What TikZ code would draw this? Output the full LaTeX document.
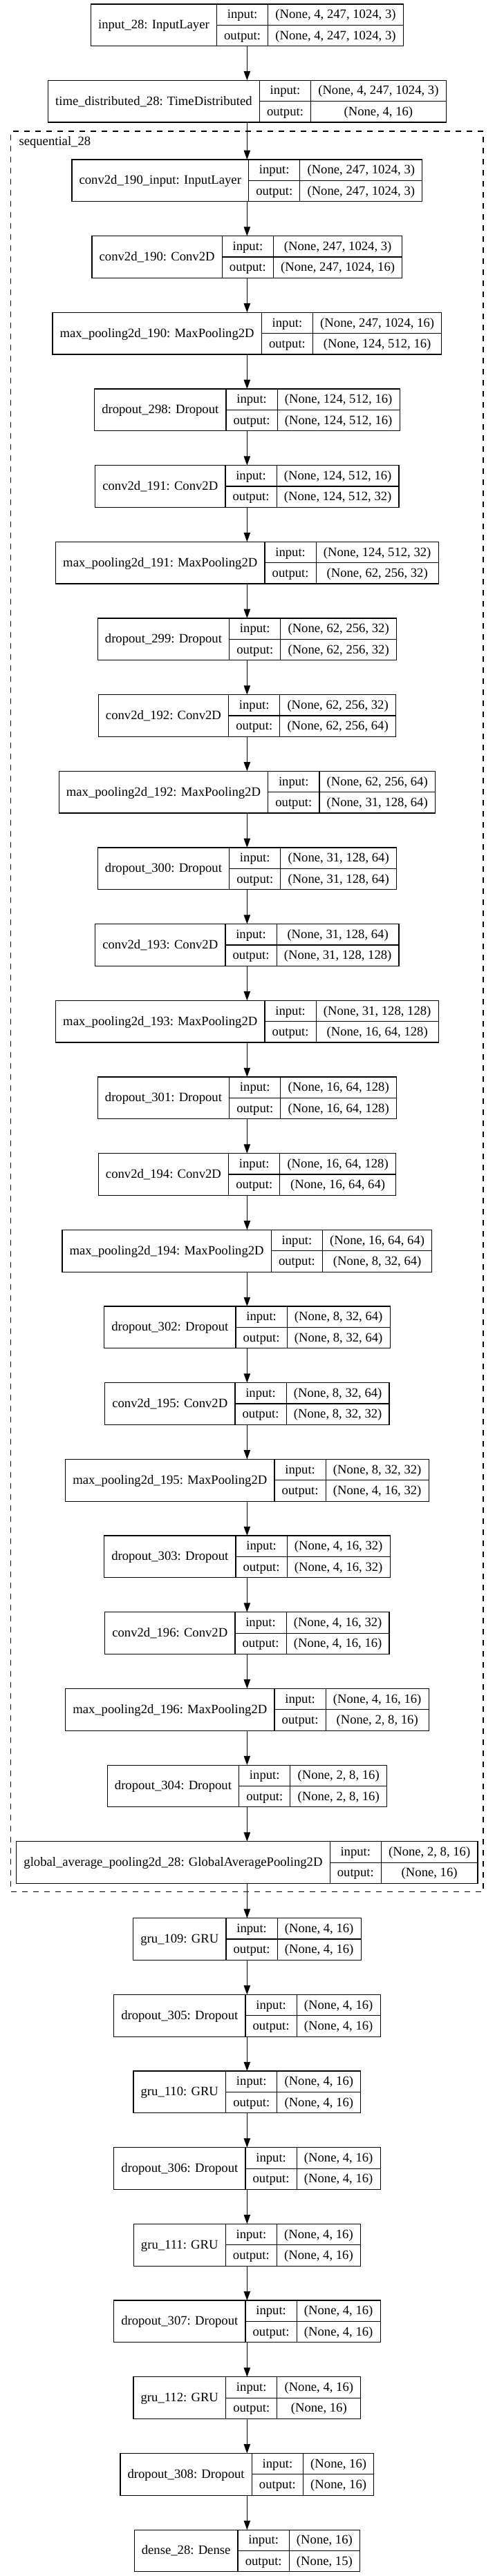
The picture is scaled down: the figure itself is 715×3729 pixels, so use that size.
\documentclass[tikz,border=0pt]{standalone}
\usepackage{fontspec}
\setmainfont{Liberation Serif}
\usetikzlibrary{arrows.meta}
\newlength\lwA \newlength\lwB \newlength\lwC \newlength\lwD
\newcommand\gvfont{\fontsize{18.67pt}{22.4pt}\selectfont}
\def\cx{357.35}
\def\bh{60.7}
\def\fpad{21.33}
\def\boff{5.5}
\tikzset{
  box/.style={draw, rectangle, line width=1.2pt, inner sep=0pt, outer sep=0pt},
  gvline/.style={line width=1.2pt},
  txt/.style={anchor=base, inner sep=0pt, font=\gvfont},
  arr/.style={line width=1.2pt, -{Triangle[length=13.3pt,width=9.3pt]}},
  cluster/.style={draw, rectangle, dash pattern=on 8pt off 8pt, line width=1.2pt, inner sep=0pt, outer sep=0pt}
}
% pass 1: measure (outside the picture)
\newcommand\measurelayer[5]{%
  \settowidth\lwA{\gvfont #3}%
  \settowidth\lwB{\gvfont output:}%
  \settowidth\lwC{\gvfont #4}%
  \settowidth\lwD{\gvfont #5}%
  \ifdim\lwD>\lwC \lwC=\lwD\fi
  \expandafter\xdef\csname wa#1\endcsname{\the\lwA}%
  \expandafter\xdef\csname wb#1\endcsname{\the\lwB}%
  \expandafter\xdef\csname wc#1\endcsname{\the\lwC}%
}
% pass 2: draw (inside the picture)
\newcommand\drawlayer[5]{%
  \pgfmathsetmacro\fa{\csname wa#1\endcsname+\fpad}%
  \pgfmathsetmacro\fb{\csname wb#1\endcsname+\fpad}%
  \pgfmathsetmacro\fc{\csname wc#1\endcsname+\fpad}%
  \pgfmathsetmacro\wt{\fa+\fb+\fc}%
  \pgfmathsetmacro\xl{\cx-\wt/2}%
  \pgfmathsetmacro\xa{\xl+\fa}%
  \pgfmathsetmacro\xb{\xa+\fb}%
  \pgfmathsetmacro\xr{\xl+\wt}%
  \pgfmathsetmacro\yt{#2}%
  \pgfmathsetmacro\ym{\yt+\bh/2}%
  \pgfmathsetmacro\yb{\yt+\bh}%
  \node[box, minimum width=\wt pt, minimum height=\bh pt] (#1) at (\cx,\ym) {};
  \draw[gvline] (\xa,\yt) -- (\xa,\yb) (\xb,\yt) -- (\xb,\yb) (\xa,\ym) -- (\xr,\ym);
  \node[txt] (#1-n) at ({(\xl+\xa)/2},{\ym+\boff}) {#3};
  \node[txt] (#1-il) at ({(\xa+\xb)/2},{\yt+\bh/4+\boff}) {input:};
  \node[txt] (#1-ol) at ({(\xa+\xb)/2},{\yt+3*\bh/4+\boff}) {output:};
  \node[txt] (#1-iv) at ({(\xb+\xr)/2},{\yt+\bh/4+\boff}) {#4};
  \node[txt] (#1-ov) at ({(\xb+\xr)/2},{\yt+3*\bh/4+\boff}) {#5};
}
\newcommand\alllayers{%
\layer{L1}{6}{input\_28: InputLayer}{(None, 4, 247, 1024, 3)}{(None, 4, 247, 1024, 3)}%
\layer{L2}{116.3}{time\_distributed\_28: TimeDistributed}{(None, 4, 247, 1024, 3)}{(None, 4, 16)}%
\layer{L3}{231}{conv2d\_190\_input: InputLayer}{(None, 247, 1024, 3)}{(None, 247, 1024, 3)}%
\layer{L4}{231+110.67*1}{conv2d\_190: Conv2D}{(None, 247, 1024, 3)}{(None, 247, 1024, 16)}%
\layer{L5}{231+110.67*2}{max\_pooling2d\_190: MaxPooling2D}{(None, 247, 1024, 16)}{(None, 124, 512, 16)}%
\layer{L6}{231+110.67*3}{dropout\_298: Dropout}{(None, 124, 512, 16)}{(None, 124, 512, 16)}%
\layer{L7}{231+110.67*4}{conv2d\_191: Conv2D}{(None, 124, 512, 16)}{(None, 124, 512, 32)}%
\layer{L8}{231+110.67*5}{max\_pooling2d\_191: MaxPooling2D}{(None, 124, 512, 32)}{(None, 62, 256, 32)}%
\layer{L9}{231+110.67*6}{dropout\_299: Dropout}{(None, 62, 256, 32)}{(None, 62, 256, 32)}%
\layer{L10}{231+110.67*7}{conv2d\_192: Conv2D}{(None, 62, 256, 32)}{(None, 62, 256, 64)}%
\layer{L11}{231+110.67*8}{max\_pooling2d\_192: MaxPooling2D}{(None, 62, 256, 64)}{(None, 31, 128, 64)}%
\layer{L12}{231+110.67*9}{dropout\_300: Dropout}{(None, 31, 128, 64)}{(None, 31, 128, 64)}%
\layer{L13}{231+110.67*10}{conv2d\_193: Conv2D}{(None, 31, 128, 64)}{(None, 31, 128, 128)}%
\layer{L14}{231+110.67*11}{max\_pooling2d\_193: MaxPooling2D}{(None, 31, 128, 128)}{(None, 16, 64, 128)}%
\layer{L15}{231+110.67*12}{dropout\_301: Dropout}{(None, 16, 64, 128)}{(None, 16, 64, 128)}%
\layer{L16}{231+110.67*13}{conv2d\_194: Conv2D}{(None, 16, 64, 128)}{(None, 16, 64, 64)}%
\layer{L17}{231+110.67*14}{max\_pooling2d\_194: MaxPooling2D}{(None, 16, 64, 64)}{(None, 8, 32, 64)}%
\layer{L18}{231+110.67*15}{dropout\_302: Dropout}{(None, 8, 32, 64)}{(None, 8, 32, 64)}%
\layer{L19}{231+110.67*16}{conv2d\_195: Conv2D}{(None, 8, 32, 64)}{(None, 8, 32, 32)}%
\layer{L20}{231+110.67*17}{max\_pooling2d\_195: MaxPooling2D}{(None, 8, 32, 32)}{(None, 4, 16, 32)}%
\layer{L21}{231+110.67*18}{dropout\_303: Dropout}{(None, 4, 16, 32)}{(None, 4, 16, 32)}%
\layer{L22}{231+110.67*19}{conv2d\_196: Conv2D}{(None, 4, 16, 32)}{(None, 4, 16, 16)}%
\layer{L23}{231+110.67*20}{max\_pooling2d\_196: MaxPooling2D}{(None, 4, 16, 16)}{(None, 2, 8, 16)}%
\layer{L24}{231+110.67*21}{dropout\_304: Dropout}{(None, 2, 8, 16)}{(None, 2, 8, 16)}%
\layer{L25}{231+110.67*22}{global\_average\_pooling2d\_28: GlobalAveragePooling2D}{(None, 2, 8, 16)}{(None, 16)}%
\layer{L26}{2776.7}{gru\_109: GRU}{(None, 4, 16)}{(None, 4, 16)}%
\layer{L27}{2776.7+110.67*1}{dropout\_305: Dropout}{(None, 4, 16)}{(None, 4, 16)}%
\layer{L28}{2776.7+110.67*2}{gru\_110: GRU}{(None, 4, 16)}{(None, 4, 16)}%
\layer{L29}{2776.7+110.67*3}{dropout\_306: Dropout}{(None, 4, 16)}{(None, 4, 16)}%
\layer{L30}{2776.7+110.67*4}{gru\_111: GRU}{(None, 4, 16)}{(None, 4, 16)}%
\layer{L31}{2776.7+110.67*5}{dropout\_307: Dropout}{(None, 4, 16)}{(None, 4, 16)}%
\layer{L32}{2776.7+110.67*6}{gru\_112: GRU}{(None, 4, 16)}{(None, 16)}%
\layer{L33}{2776.7+110.67*7}{dropout\_308: Dropout}{(None, 16)}{(None, 16)}%
\layer{L34}{2776.7+110.67*8}{dense\_28: Dense}{(None, 16)}{(None, 15)}%
}
\begin{document}
\let\layer\measurelayer
\alllayers
\begin{tikzpicture}[x=1pt,y=-1pt]
\useasboundingbox (0,0) rectangle (715,3729);
% cluster
\node[cluster, minimum width=683.3pt, minimum height=2548.3pt] (seq) at (357.35,1464.15) {};
\node[txt, anchor=base west] (seqlab) at (27.3,210.5) {sequential\_28};
\let\layer\drawlayer
\alllayers
\foreach \a/\b in {1/2,2/3,3/4,4/5,5/6,6/7,7/8,8/9,9/10,10/11,11/12,12/13,13/14,14/15,15/16,16/17,17/18,18/19,19/20,20/21,21/22,22/23,23/24,24/25,25/26,26/27,27/28,28/29,29/30,30/31,31/32,32/33,33/34}
  \draw[arr] (L\a.south) -- (L\b.north);
\end{tikzpicture}
\end{document}
